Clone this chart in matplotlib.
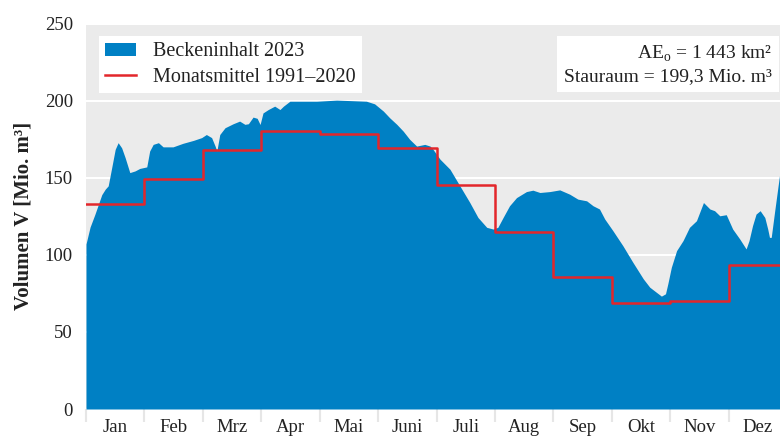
import matplotlib
matplotlib.use("Agg")
import matplotlib.pyplot as plt
from matplotlib.patches import Patch
from matplotlib.lines import Line2D
import numpy as np

plt.rcParams['font.family'] = ['Liberation Serif', 'DejaVu Serif']
plt.rcParams['mathtext.fontset'] = 'custom'
plt.rcParams['mathtext.rm'] = 'Liberation Serif'

# daily reservoir volume 2023, x in months (0 = 1 Jan, 12 = 31 Dec)
t_month = [0.00, 0.07, 0.15, 0.27, 0.33, 0.38, 0.44, 0.50, 0.55, 0.61, 0.67, 0.75, 0.84, 0.92,
           1.04, 1.09, 1.15, 1.24, 1.32, 1.49, 1.66, 1.84, 1.98, 2.06, 2.15, 2.21, 2.24, 2.29,
           2.38, 2.52, 2.63, 2.72, 2.78, 2.86, 2.93, 2.98, 3.03, 3.12, 3.23, 3.32, 3.38, 3.49,
           3.60, 3.95, 4.29, 4.52, 4.80, 4.94, 5.09, 5.20, 5.32, 5.43, 5.54, 5.66, 5.80, 5.89,
           5.94, 6.06, 6.23, 6.40, 6.57, 6.71, 6.86, 6.97, 7.05, 7.14, 7.25, 7.37, 7.54, 7.65,
           7.77, 7.94, 8.11, 8.28, 8.42, 8.57, 8.68, 8.79, 8.88, 9.02, 9.19, 9.36, 9.54, 9.65,
           9.76, 9.85, 9.92, 9.96, 10.02, 10.11, 10.22, 10.33, 10.45, 10.57, 10.68, 10.76, 10.85,
           10.96, 11.07, 11.19, 11.30, 11.35, 11.41, 11.47, 11.54, 11.62, 11.67, 11.70, 11.73,
           11.79, 11.87, 12.00]
volume = [107, 118, 126, 139, 142.6, 144.7, 156.5, 168.4, 172.7, 169.4, 163, 153.3, 154.4, 156,
          157, 167.3, 171.6, 172.7, 170, 170, 172.3, 174.2, 176, 178, 176, 170.5, 167.3, 178,
          182.4, 185, 186.7, 184.6, 185, 189.3, 188.5, 184.5, 192, 194.2, 196.4, 194.2, 196.4, 199.6,
          199.6, 199.6, 200.3, 200, 199.6, 197.9, 193.2, 188.8, 184.6, 180.2, 174.9, 170.5, 171.6, 170.5,
          168.4, 162, 155.5, 144.7, 133.9, 124.2, 117.8, 116.7, 117.8, 124.2, 131.8, 137.1, 141, 141.9,
          140.4, 141, 142.1, 139.3, 136.1, 135, 131.8, 129.7, 123.2, 115.6, 105.9, 95.2, 84.4, 79,
          75.8, 73.2, 74.7, 81.2, 91.9, 102.7, 109.2, 117.8, 122.1, 133.9, 129.7, 128.6, 125.3,
          126, 116.7, 110.3, 103.8, 109.2, 118.9, 126.4, 128.6, 124.2, 116.7, 111.3, 111.3,
          128.6, 151, 160]

months = ["Jan", "Feb", "Mrz", "Apr", "Mai", "Juni", "Juli", "Aug", "Sep", "Okt", "Nov", "Dez"]
mean_1991_2020 = [133, 149, 168, 180, 178.5, 169.5, 145.5, 114.5, 85.5, 69, 70, 93.5]

blue = "#0080c4"
red = "#e3262b"
txt = "#222222"

fig = plt.figure(figsize=(7.8, 4.37), dpi=100)
ax = fig.add_axes([86 / 780, 1 - 409 / 437, 701 / 780, (409 - 23.5) / 437])
ax.set_facecolor("#ebebeb")

ax.fill_between(t_month, volume, 0, color=blue, linewidth=0, zorder=2)
ax.step(np.arange(13), mean_1991_2020 + [mean_1991_2020[-1]], where="post",
        color=red, linewidth=1.8, zorder=3)

ax.set_xlim(0, 12)
ax.set_ylim(0, 250)
ax.set_yticks([0, 50, 100, 150, 200, 250])
ax.grid(axis="y", color="white", linewidth=1.5, zorder=1)
ax.set_axisbelow(True)
for s in ax.spines.values():
    s.set_visible(False)

ax.set_xticks(np.arange(13))
ax.set_xticklabels([])
ax.set_xticks(np.arange(12) + 0.5, minor=True)
ax.set_xticklabels(months, minor=True)
ax.tick_params(axis="x", which="major", length=9, width=1.5, color="#e6e6e6", direction="out")
ax.tick_params(axis="x", which="minor", length=0, pad=7.5, labelsize=13.5, labelcolor=txt)
ax.tick_params(axis="y", length=0, pad=9.5, labelsize=13.5, labelcolor=txt)

ax.set_ylabel("Volumen V [Mio. m³]", fontsize=15, fontweight="bold", color=txt, labelpad=8)

handles = [Patch(facecolor=blue, edgecolor="none"), Line2D([], [], color=red, linewidth=1.8)]
leg = ax.legend(handles, ["Beckeninhalt 2023", "Monatsmittel 1991–2020"], loc="upper left",
                bbox_to_anchor=(0.018, 0.968), fontsize=14.5, frameon=True, fancybox=False,
                handlelength=1.55, handleheight=0.62, handletextpad=0.85, labelspacing=0.33,
                borderpad=0.32, borderaxespad=0)
leg.get_frame().set_facecolor("white")
leg.get_frame().set_edgecolor("none")
leg.get_frame().set_alpha(1)
for t in leg.get_texts():
    t.set_color(txt)

ax.text((772 - 86) / 701, (409 - 44) / 385.5,
        "AE$_\\mathrm{o}$ = 1 443 km²\nStauraum = 199,3 Mio. m³",
        transform=ax.transAxes, ha="right", va="top", fontsize=14, color=txt,
        linespacing=1.3, zorder=5,
        bbox=dict(boxstyle="square,pad=0.35", facecolor="white", edgecolor="none"))

fig.savefig("out.png", dpi=100)
